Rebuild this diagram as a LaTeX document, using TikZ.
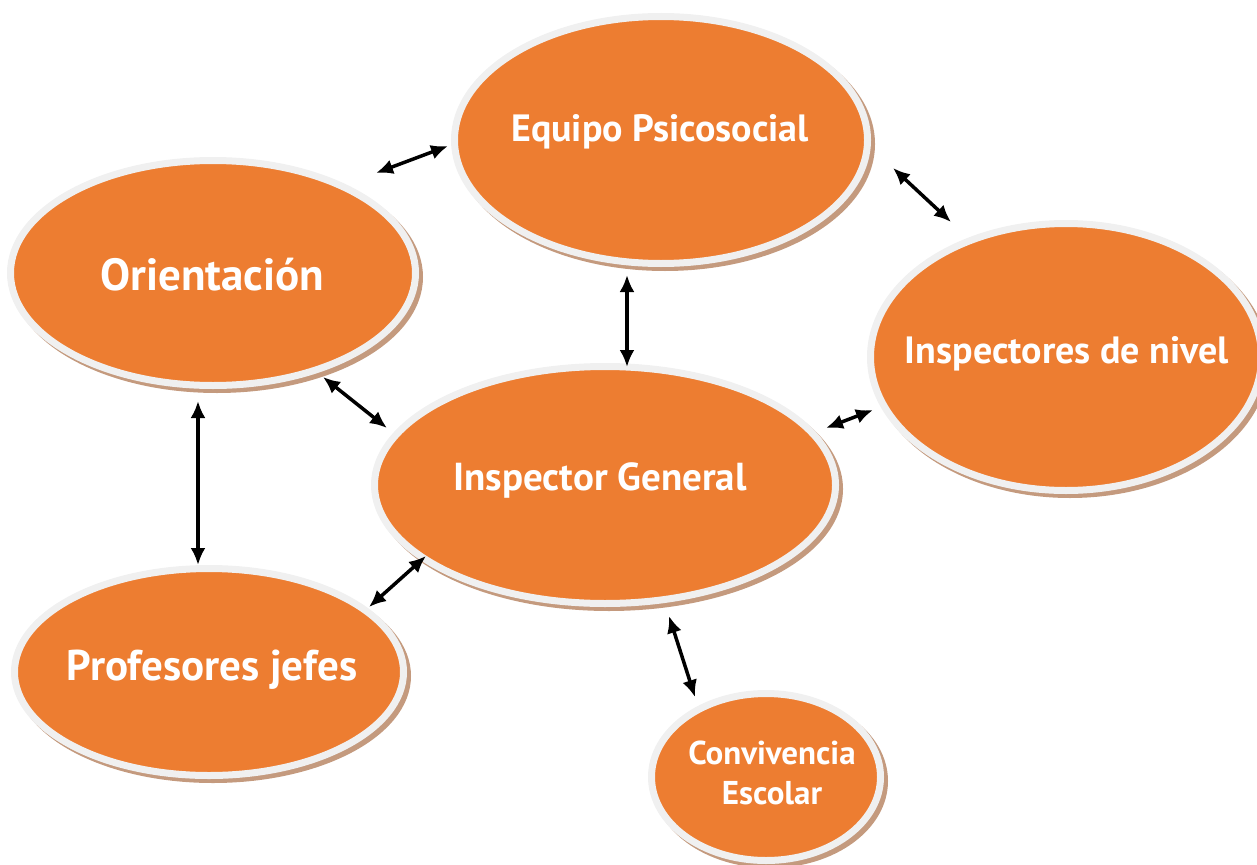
\documentclass[tikz,border=0pt]{standalone}
\usepackage{fontspec}
\setmainfont{PT Sans}
\usetikzlibrary{arrows.meta,shapes.geometric}
\definecolor{orng}{HTML}{ED7D31}
\definecolor{rim}{HTML}{F0F0F0}
\definecolor{shd}{HTML}{C49A7E}
\tikzset{
  blob/.style={ellipse, fill=orng, draw=rim, line width=7pt, inner sep=0pt,
    preaction={draw=shd, line width=7pt, transform canvas={xshift=4pt,yshift=-4pt}}},
  lbl/.style={text=white, font=\bfseries\fontsize{#1}{40}\selectfont, align=center},
  link/.style={{Latex[length=17pt,width=15pt]}-{Latex[length=17pt,width=15pt]}, line width=3.5pt, black}
}
\begin{document}
\begin{tikzpicture}[x=1pt,y=-1pt]
\useasboundingbox (0,0) rectangle (1257,864);
\node[blob, minimum width=413pt, minimum height=247pt] (ep) at (661,140) {};
\node[blob, minimum width=405pt, minimum height=225pt] (or) at (213,273) {};
\node[blob, minimum width=391pt, minimum height=267pt] (in) at (1066,357) {};
\node[blob, minimum width=461pt, minimum height=237pt] (ig) at (605,485) {};
\node[blob, minimum width=389pt, minimum height=207pt] (pj) at (209,672) {};
\node[blob, minimum width=229pt, minimum height=167pt] (ce) at (766,777) {};
\node[lbl=38] (ept) at (660,132) {Equipo Psicosocial};
\node[lbl=45] (ort) at (212,275) {Orientación};
\node[lbl=38] (int) at (1067,354) {Inspectores de nivel};
\node[lbl=39] (igt) at (600,480) {Inspector General};
\node[lbl=43] (pjt) at (212,670) {Profesores jefes};
\node[lbl=33, text width=200pt] (cet) at (772,773) {Convivencia\\Escolar};
% connector ends
\coordinate (a1) at (376,173); \coordinate (a2) at (448,146);
\coordinate (b1) at (893,168); \coordinate (b2) at (951,222);
\coordinate (c1) at (627,275); \coordinate (c2) at (627,367);
\coordinate (d1) at (323,377); \coordinate (d2) at (387,428);
\coordinate (e1) at (826,428); \coordinate (e2) at (873,410);
\coordinate (f1) at (198,401); \coordinate (f2) at (198,565);
\coordinate (g1) at (369,607); \coordinate (g2) at (426,556);
\coordinate (h1) at (669,616); \coordinate (h2) at (695,697);
\draw[link] (a1) -- (a2);
\draw[link] (b1) -- (b2);
\draw[link] (c1) -- (c2);
\draw[link] (d1) -- (d2);
\draw[link] (e1) -- (e2);
\draw[link] (f1) -- (f2);
\draw[link] (g1) -- (g2);
\draw[link] (h1) -- (h2);
\end{tikzpicture}
\end{document}
